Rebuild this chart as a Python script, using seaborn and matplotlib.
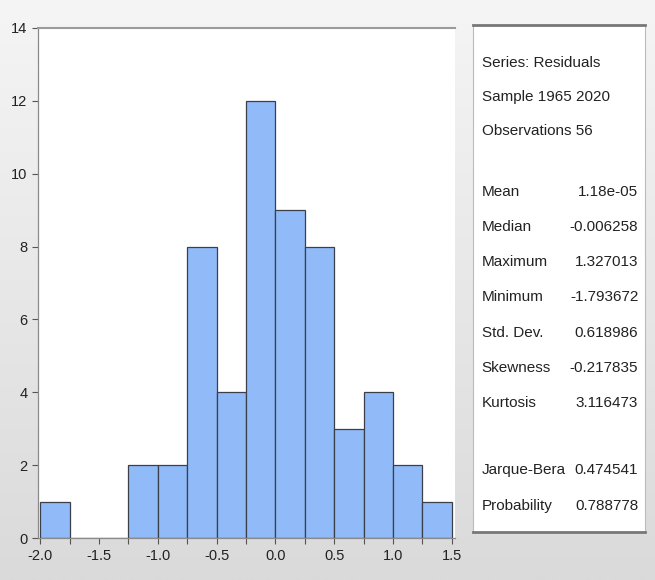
import numpy as np
import matplotlib
matplotlib.use("Agg")
import matplotlib.pyplot as plt
import seaborn as sns

# histogram of residuals (bin edges and counts)
bin_edges = [-2.0, -1.75, -1.5, -1.25, -1.0, -0.75, -0.5, -0.25, 0.0, 0.25, 0.5, 0.75, 1.0, 1.25, 1.5]
counts = [1, 0, 0, 2, 2, 8, 4, 12, 9, 8, 3, 4, 2, 1]
bin_mids = [(a + b) / 2 for a, b in zip(bin_edges[:-1], bin_edges[1:])]

x_ticks = [-2.0, -1.5, -1.0, -0.5, 0.0, 0.5, 1.0, 1.5]
y_ticks = [0, 2, 4, 6, 8, 10, 12, 14]

header_lines = ["Series: Residuals", "Sample 1965 2020", "Observations 56"]
stat_names = ["Mean", "Median", "Maximum", "Minimum", "Std. Dev.", "Skewness", "Kurtosis"]
stat_values = ["1.18e-05", "-0.006258", "1.327013", "-1.793672", "0.618986", "-0.217835", "3.116473"]
test_names = ["Jarque-Bera", "Probability"]
test_values = ["0.474541", "0.788778"]

sns.set_style("white")
plt.rcParams['font.family'] = ['Liberation Sans Narrow', 'DejaVu Sans Condensed', 'Liberation Sans', 'DejaVu Sans']

fig = plt.figure(figsize=(6.55, 5.8), dpi=100)
fig.patch.set_facecolor("#e8e8e8")

# soft grey gradient behind everything
bg = fig.add_axes([0, 0, 1, 1], zorder=-10)
grad = np.linspace(0, 1, 256).reshape(-1, 1)
bg.imshow(grad, aspect="auto", cmap=matplotlib.colors.LinearSegmentedColormap.from_list("g", ["#f5f5f5", "#dadada"]),
          extent=[0, 1, 0, 1], origin="upper")
bg.axis("off")

ax = fig.add_axes([0.058, 0.072, 0.637, 0.880])
ax.set_facecolor("white")
sns.histplot(x=bin_mids, weights=counts, bins=bin_edges, ax=ax,
             color="#90bbf8", alpha=1, edgecolor="#3a3f4a", linewidth=0.9)

ax.set_xlim(-2.02, 1.53)
ax.set_ylim(0, 14)
ax.set_xticks(x_ticks)
ax.set_xticklabels([f"{t:.1f}" for t in x_ticks])
ax.set_xticks(bin_edges, minor=True)
ax.set_yticks(y_ticks)
ax.set_ylabel("")
ax.set_xlabel("")
ax.tick_params(axis="both", which="both", direction="out", length=4, width=0.8,
               color="#555555", labelsize=10.5, labelcolor="#222222", bottom=True, left=True)
for side in ["left", "bottom"]:
    ax.spines[side].set_color("#8a8a8a")
    ax.spines[side].set_linewidth(0.9)
ax.spines["top"].set_color("#9a9a9a")
ax.spines["top"].set_linewidth(1.5)
ax.spines["right"].set_visible(False)

# statistics box
box = fig.add_axes([0.722, 0.083, 0.263, 0.874])
box.set_facecolor("white")
box.set_xticks([])
box.set_yticks([])
box.set_xlim(0, 1)
box.set_ylim(580, 0)
for side in ["left", "right"]:
    box.spines[side].set_color("#bbbbbb")
    box.spines[side].set_linewidth(0.8)
for side in ["top", "bottom"]:
    box.spines[side].set_color("#777777")
    box.spines[side].set_linewidth(2.0)

def fy(y):
    # pixel row in the image -> box data coordinate
    top, bottom = 25, 532
    return (y - top) / (bottom - top) * 580

fs = 11
for i, line in enumerate(header_lines):
    box.text(0.05, fy(63 + 34 * i), line, fontsize=fs, color="#222222", va="center", ha="left")
for i, (n, v) in enumerate(zip(stat_names, stat_values)):
    y = fy(192 + 35.2 * i)
    box.text(0.05, y, n, fontsize=fs, color="#222222", va="center", ha="left")
    box.text(0.96, y, v, fontsize=fs, color="#222222", va="center", ha="right")
for i, (n, v) in enumerate(zip(test_names, test_values)):
    y = fy(470 + 36 * i)
    box.text(0.05, y, n, fontsize=fs, color="#222222", va="center", ha="left")
    box.text(0.96, y, v, fontsize=fs, color="#222222", va="center", ha="right")

fig.savefig("out.png", dpi=100, facecolor=fig.get_facecolor())
